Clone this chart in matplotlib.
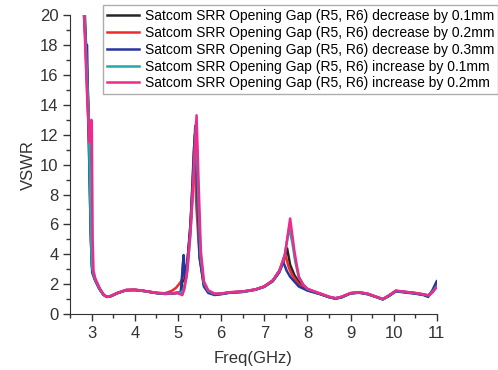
import matplotlib.pyplot as plt
from matplotlib.ticker import MultipleLocator

plt.rcParams['font.family'] = ['Liberation Sans', 'DejaVu Sans']

labels = [
    "Satcom SRR Opening Gap (R5, R6) decrease by 0.1mm",
    "Satcom SRR Opening Gap (R5, R6) decrease by 0.2mm",
    "Satcom SRR Opening Gap (R5, R6) decrease by 0.3mm",
    "Satcom SRR Opening Gap (R5, R6) increase by 0.1mm",
    "Satcom SRR Opening Gap (R5, R6) increase by 0.2mm",
]
colors = ["#262626", "#ee2a2a", "#27359e", "#1fa8ad", "#ee2a8c"]

# decrease by 0.1mm
f_dec1 = [2.84, 2.88, 2.92, 2.96, 2.99, 3.02, 3.08, 3.18, 3.27, 3.35, 3.45, 3.6, 3.8, 4.0, 4.2,
          4.5, 4.7, 4.9, 5.0, 5.08, 5.12, 5.14, 5.2, 5.28, 5.34, 5.39, 5.45, 5.5, 5.6, 5.7, 5.85,
          6.0, 6.2, 6.5, 6.8, 7.0, 7.2, 7.35, 7.45, 7.53, 7.6, 7.7, 7.85, 8.0, 8.3, 8.5, 8.65,
          8.8, 9.0, 9.2, 9.4, 9.6, 9.75, 9.9, 10.05, 10.2, 10.5, 10.7, 10.8, 10.9, 11.0]
v_dec1 = [20, 17, 14, 9, 4, 2.8, 2.3, 1.7, 1.3, 1.15, 1.22, 1.42, 1.6, 1.62, 1.55,
          1.42, 1.36, 1.4, 1.45, 1.5, 3.5, 2.2, 3.0, 5.5, 8.5, 12.0, 7.5, 4.0, 2.0, 1.5, 1.32,
          1.36, 1.45, 1.5, 1.65, 1.85, 2.25, 2.9, 3.6, 4.4, 3.3, 2.6, 1.95, 1.62, 1.35, 1.15, 1.05,
          1.15, 1.4, 1.45, 1.35, 1.15, 1.0, 1.25, 1.55, 1.5, 1.4, 1.3, 1.2, 1.55, 2.0]

# decrease by 0.2mm
f_dec2 = [2.83, 2.88, 2.93, 2.97, 3.0, 3.03, 3.08, 3.18, 3.27, 3.35, 3.45, 3.6, 3.8, 4.0, 4.2,
          4.5, 4.7, 4.85, 4.95, 5.05, 5.15, 5.22, 5.28, 5.33, 5.37, 5.43, 5.5, 5.6, 5.7, 5.85,
          6.0, 6.2, 6.5, 6.8, 7.0, 7.2, 7.35, 7.43, 7.49, 7.57, 7.65, 7.8, 8.0, 8.3, 8.5, 8.65,
          8.8, 9.0, 9.2, 9.4, 9.6, 9.75, 9.9, 10.05, 10.2, 10.5, 10.7, 10.8, 10.9, 11.0]
v_dec2 = [20, 16, 12, 6, 3.2, 2.7, 2.3, 1.7, 1.3, 1.15, 1.22, 1.42, 1.62, 1.63, 1.56,
          1.42, 1.4, 1.55, 1.75, 2.1, 2.6, 3.5, 5.5, 8.5, 11.2, 7.0, 3.8, 1.95, 1.5, 1.33,
          1.36, 1.45, 1.5, 1.65, 1.85, 2.25, 2.85, 3.4, 3.95, 3.1, 2.6, 2.0, 1.6, 1.35, 1.15, 1.05,
          1.15, 1.4, 1.45, 1.35, 1.15, 1.0, 1.25, 1.55, 1.5, 1.4, 1.3, 1.22, 1.5, 1.9]

# decrease by 0.3mm
f_dec3 = [2.82, 2.86, 2.87, 2.89, 2.92, 2.95, 2.98, 3.01, 3.07, 3.17, 3.27, 3.35, 3.45, 3.6, 3.8,
          4.0, 4.2, 4.5, 4.7, 4.9, 5.0, 5.06, 5.1, 5.13, 5.16, 5.22, 5.3, 5.35, 5.4, 5.45, 5.5,
          5.6, 5.7, 5.85, 6.0, 6.2, 6.5, 6.8, 7.0, 7.2, 7.35, 7.44, 7.52, 7.6, 7.8, 8.0, 8.3,
          8.5, 8.65, 8.8, 9.0, 9.2, 9.4, 9.6, 9.75, 9.9, 10.05, 10.2, 10.5, 10.7, 10.8, 10.9, 11.0]
v_dec3 = [20, 18.2, 18.0, 18.0, 13, 9, 5, 2.8, 2.3, 1.7, 1.3, 1.15, 1.2, 1.4, 1.6,
          1.6, 1.55, 1.4, 1.35, 1.38, 1.42, 1.4, 2.8, 3.95, 2.5, 3.5, 6.5, 9.5, 12.6, 8.0, 3.8,
          1.85, 1.42, 1.28, 1.33, 1.43, 1.48, 1.63, 1.82, 2.2, 2.8, 3.5, 2.9, 2.5, 1.85, 1.58, 1.33,
          1.13, 1.03, 1.12, 1.38, 1.43, 1.33, 1.13, 0.98, 1.22, 1.52, 1.47, 1.37, 1.27, 1.15, 1.6, 2.2]

# increase by 0.1mm
f_inc1 = [2.83, 2.88, 2.93, 2.97, 3.0, 3.03, 3.08, 3.18, 3.27, 3.35, 3.45, 3.6, 3.8, 4.0, 4.2,
          4.5, 4.7, 4.9, 5.0, 5.08, 5.12, 5.2, 5.28, 5.35, 5.42, 5.47, 5.52, 5.6, 5.7, 5.85,
          6.0, 6.2, 6.5, 6.8, 7.0, 7.2, 7.35, 7.47, 7.58, 7.65, 7.72, 7.8, 7.9, 8.0, 8.3, 8.5, 8.65,
          8.8, 9.0, 9.2, 9.4, 9.6, 9.75, 9.9, 10.05, 10.2, 10.5, 10.7, 10.8, 10.9, 11.0]
v_inc1 = [20, 16.5, 13, 7, 3.3, 2.8, 2.3, 1.7, 1.3, 1.15, 1.22, 1.42, 1.61, 1.62, 1.55,
          1.42, 1.36, 1.4, 1.45, 1.45, 1.6, 2.5, 5.0, 8.5, 12.9, 8.0, 4.0, 2.1, 1.55, 1.35,
          1.37, 1.46, 1.5, 1.65, 1.85, 2.25, 2.9, 3.9, 5.75, 4.8, 3.5, 2.5, 2.0, 1.68, 1.37, 1.16, 1.06,
          1.16, 1.4, 1.46, 1.36, 1.15, 1.0, 1.26, 1.56, 1.51, 1.41, 1.31, 1.25, 1.5, 1.85]

# increase by 0.2mm
f_inc2 = [2.82, 2.86, 2.9, 2.95, 2.97, 2.99, 3.0, 3.02, 3.04, 3.08, 3.18, 3.27, 3.35, 3.45, 3.6,
          3.8, 4.0, 4.2, 4.5, 4.7, 4.9, 5.0, 5.1, 5.15, 5.22, 5.3, 5.37, 5.43, 5.48, 5.53, 5.6,
          5.7, 5.85, 6.0, 6.2, 6.5, 6.8, 7.0, 7.2, 7.35, 7.48, 7.6, 7.7, 7.8, 7.9, 8.0, 8.3, 8.5,
          8.65, 8.8, 9.0, 9.2, 9.4, 9.6, 9.75, 9.9, 10.05, 10.2, 10.5, 10.7, 10.82, 10.9, 11.0]
v_inc2 = [20, 17, 14, 11.5, 12.0, 13.0, 12.8, 5.0, 2.9, 2.4, 1.75, 1.32, 1.16, 1.22, 1.43,
          1.62, 1.64, 1.56, 1.43, 1.37, 1.4, 1.4, 1.27, 1.7, 3.0, 6.0, 9.5, 13.3, 8.5, 4.2, 2.2,
          1.6, 1.37, 1.38, 1.47, 1.52, 1.66, 1.86, 2.27, 2.9, 4.0, 6.4, 4.2, 2.5, 1.98, 1.7, 1.38, 1.17,
          1.07, 1.17, 1.41, 1.47, 1.37, 1.16, 1.02, 1.27, 1.57, 1.52, 1.42, 1.33, 1.25, 1.45, 1.8]

freqs = [f_dec1, f_dec2, f_dec3, f_inc1, f_inc2]
vswrs = [v_dec1, v_dec2, v_dec3, v_inc1, v_inc2]

fig = plt.figure(figsize=(4.98, 3.7), dpi=100)
ax = fig.add_axes([0.141, 0.151, 0.736, 0.808])

for f, v, c, lab in zip(freqs, vswrs, colors, labels):
    ax.plot(f, v, color=c, linewidth=1.8, label=lab)

ax.set_xlim(2.5, 11)
ax.set_ylim(0, 20)
ax.xaxis.set_major_locator(MultipleLocator(1))
ax.xaxis.set_minor_locator(MultipleLocator(0.5))
ax.yaxis.set_major_locator(MultipleLocator(2))
ax.yaxis.set_minor_locator(MultipleLocator(1))
ax.spines['top'].set_visible(False)
ax.spines['right'].set_visible(False)
for s in ['left', 'bottom']:
    ax.spines[s].set_color('#333333')
ax.tick_params(which='major', direction='out', length=5, width=1, labelsize=12, colors='#333333')
ax.tick_params(which='minor', direction='out', length=3, width=1, colors='#333333')

ax.set_xlabel("Freq(GHz)", fontsize=12, color='#333333', labelpad=7)
ax.set_ylabel("VSWR", fontsize=12, color='#333333', labelpad=3)

leg = ax.legend(loc='upper left', bbox_to_anchor=(103 / 498, 1 - 5 / 370),
                bbox_transform=fig.transFigure, fontsize=10, fancybox=False,
                handlelength=2.3, borderpad=0.3, labelspacing=0.2, handletextpad=0.4,
                borderaxespad=0)
leg.get_frame().set_edgecolor('#999999')
leg.get_frame().set_linewidth(1)

fig.savefig("out.png", dpi=100)
